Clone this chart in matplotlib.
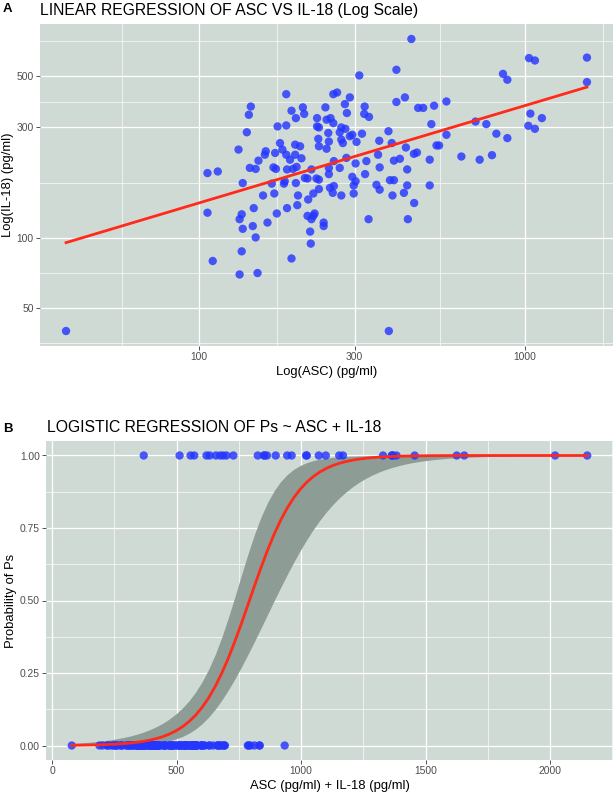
import numpy as np
import matplotlib
matplotlib.use("Agg")
import matplotlib.pyplot as plt
from matplotlib.ticker import FixedLocator, NullFormatter

plt.rcParams['font.family'] = ['Liberation Sans', 'DejaVu Sans']

# one entry per sample: ASC, IL-18 (pg/ml) and Ps outcome (1 = Ps)
asc = [185, 258, 265, 290, 280, 322, 403, 428, 144, 142, 192, 208, 210, 198,
       244, 284, 321, 332, 230, 246, 253, 258, 174, 185, 230, 233, 273, 281,
       140, 249, 270, 290, 295, 316, 381, 232, 250, 273, 276, 304, 357, 390,
       233, 246, 177, 132, 160, 159, 171, 180, 185, 197, 204, 190, 206, 152,
       197, 143, 149, 169, 172, 186, 194, 199, 221, 259, 283, 270, 250, 302,
       326, 354, 396, 413, 431, 456, 435, 358, 106, 114, 136, 167, 182, 183,
       198, 211, 215, 229, 233, 250, 233, 252, 257, 259, 295, 302, 298, 323,
       350, 358, 385, 396, 435, 157, 170, 201, 224, 216, 273, 298, 392, 425,
       106, 147, 135, 133, 136, 146, 162, 173, 186, 200, 215, 224, 226, 221,
       241, 241, 331, 437, 149, 219, 220, 135, 110, 192,
       448, 310, 403, 856, 883, 1029, 1073, 1550, 1550, 470, 487, 526, 574, 516,
       574, 535, 545, 510, 638, 726, 792, 705, 761, 817, 883, 1039, 1127, 1024,
       1073, 466, 510, 457, 39, 133, 151, 382]
il18 = [417, 417, 424, 404, 378, 369, 386, 404, 369, 340, 354, 366, 343, 329,
        366, 346, 343, 333, 329, 324, 329, 313, 303, 306, 303, 300, 300, 296,
        286, 284, 286, 275, 279, 282, 289, 268, 261, 266, 257, 260, 263, 257,
        249, 243, 257, 241, 237, 229, 233, 241, 229, 253, 249, 218, 221, 216,
        229, 201, 199, 202, 199, 198, 199, 203, 198, 215, 222, 201, 201, 210,
        215, 229, 216, 220, 246, 231, 198, 202, 191, 194, 173, 172, 172, 176,
        173, 182, 181, 181, 179, 189, 163, 165, 157, 168, 184, 176, 169, 189,
        170, 162, 178, 178, 169, 153, 156, 153, 156, 147, 153, 156, 153, 157,
        129, 135, 127, 121, 110, 113, 117, 128, 135, 139, 125, 125, 128, 121,
        117, 113, 121, 121, 101, 107, 95, 88, 80, 82,
        720, 502, 531, 510, 481, 596, 582, 599, 470, 364, 364, 372, 388, 310,
        279, 251, 251, 218, 225, 218, 228, 318, 310, 282, 270, 344, 329, 305,
        296, 234, 169, 142, 40, 70, 71, 40]
ps = [0, 1, 0, 0, 1, 0, 0, 0, 0, 0, 0, 0, 0, 0,
      0, 0, 0, 0, 0, 0, 0, 1, 0, 0, 0, 0, 0, 0,
      0, 0, 1, 0, 0, 0, 0, 0, 0, 0, 0, 0, 1, 0,
      0, 0, 0, 0, 0, 0, 0, 0, 0, 0, 0, 0, 0, 1,
      0, 0, 0, 0, 0, 0, 0, 0, 0, 0, 0, 0, 0, 1,
      0, 0, 0, 1, 0, 1, 0, 0, 0, 0, 0, 0, 0, 0,
      0, 0, 0, 0, 0, 0, 0, 0, 0, 0, 0, 0, 0, 0,
      0, 0, 0, 0, 0, 0, 0, 0, 0, 0, 0, 0, 0, 0,
      0, 0, 0, 0, 0, 0, 0, 0, 0, 0, 0, 0, 0, 0,
      0, 0, 0, 0, 0, 0, 0, 0, 0, 0,
      1, 0, 0, 1, 1, 1, 1, 1, 1, 0, 1, 1, 1, 1,
      1, 0, 0, 1, 1, 1, 1, 1, 1, 1, 1, 1, 1, 1,
      1, 1, 0, 0, 0, 0, 0, 0]

xticks_a = [100, 300, 1000]
yticks_a = [50, 100, 300, 500]
xticks_b = [0, 500, 1000, 1500, 2000]
yticks_b = [0.0, 0.25, 0.5, 0.75, 1.0]

panel_bg = "#D0DAD5"
point_col = "#2536FF"
line_col = "#FF2A1A"
ribbon_col = "#8E9C96"


def ggplot_look(ax):
    ax.set_facecolor(panel_bg)
    for s in ax.spines.values():
        s.set_visible(False)
    ax.set_axisbelow(True)
    ax.grid(which='major', color='white', linewidth=0.9)
    ax.grid(which='minor', color='white', linewidth=0.45)
    ax.tick_params(which='major', length=2.7, width=0.6, color='#333333',
                   labelsize=7.4, labelcolor='#4D4D4D', pad=1.8)
    ax.tick_params(which='minor', length=0)


def log_midpoints(ticks):
    # ggplot style minor breaks: halfway between majors in log space
    lt = np.log10(ticks)
    step = lt[1] - lt[0]
    lt = np.concatenate([[lt[0] - step], lt, [lt[-1] + step]])
    return list(10 ** ((lt[:-1] + lt[1:]) / 2))


fig = plt.figure(figsize=(6.14, 7.93), dpi=100)
W, H = 614.0, 793.0

# ---- A: linear regression on log scales
ax = fig.add_axes([40 / W, 1 - 345.6 / H, 573 / W, 321.2 / H])
ggplot_look(ax)
ax.set_xscale('log')
ax.set_yscale('log')

lx = np.log10(asc)
ly = np.log10(il18)
sx = lx.max() - lx.min()
sy = ly.max() - ly.min()
ax.set_xlim(10 ** (lx.min() - 0.05 * sx), 10 ** (lx.max() + 0.05 * sx))
ax.set_ylim(10 ** (ly.min() - 0.05 * sy), 10 ** (ly.max() + 0.05 * sy))

ax.scatter(asc, il18, s=36, color=point_col, alpha=0.82, edgecolors='none', zorder=2)

slope, icpt = np.polyfit(lx, ly, 1)
xs = np.linspace(lx.min(), lx.max(), 80)
ax.plot(10 ** xs, 10 ** (icpt + slope * xs), color=line_col, lw=2.0, zorder=3)

ax.xaxis.set_major_locator(FixedLocator(xticks_a))
ax.yaxis.set_major_locator(FixedLocator(yticks_a))
ax.set_xticklabels([str(v) for v in xticks_a])
ax.set_yticklabels([str(v) for v in yticks_a])
ax.xaxis.set_minor_locator(FixedLocator(log_midpoints(xticks_a)))
ax.yaxis.set_minor_locator(FixedLocator(log_midpoints(yticks_a)))
ax.xaxis.set_minor_formatter(NullFormatter())
ax.yaxis.set_minor_formatter(NullFormatter())
ax.set_xlabel("Log(ASC) (pg/ml)", fontsize=9.4, labelpad=3)
ax.set_ylabel("Log(IL-18) (pg/ml)", fontsize=9.4, labelpad=2)

fig.text(3 / W, 1 - 12 / H, "A", fontsize=9.5, fontweight='bold', va='baseline')
fig.text(40 / W, 1 - 15 / H, "LINEAR REGRESSION OF ASC VS IL-18 (Log Scale)",
         fontsize=11.3, va='baseline')

# ---- B: logistic regression of Ps on ASC + IL-18
total = np.array(asc, float) + np.array(il18, float)
y = np.array(ps, float)

X = np.column_stack([np.ones_like(total), total])
beta = np.zeros(2)
for _ in range(60):
    p = 1 / (1 + np.exp(-(X @ beta)))
    w = p * (1 - p)
    hess = X.T @ (w[:, None] * X)
    beta = beta + np.linalg.solve(hess, X.T @ (y - p))
p = 1 / (1 + np.exp(-(X @ beta)))
cov = np.linalg.inv(X.T @ ((p * (1 - p))[:, None] * X))

grid = np.linspace(total.min(), total.max(), 80)
G = np.column_stack([np.ones_like(grid), grid])
eta = G @ beta
se = np.sqrt(np.einsum('ij,jk,ik->i', G, cov, G))
fit = 1 / (1 + np.exp(-eta))
lo = 1 / (1 + np.exp(-(eta - 1.96 * se)))
hi = 1 / (1 + np.exp(-(eta + 1.96 * se)))

bx = fig.add_axes([46 / W, 1 - 760 / H, 567 / W, 319 / H])
ggplot_look(bx)
span = total.max() - total.min()
bx.set_xlim(total.min() - 0.05 * span, total.max() + 0.05 * span)
bx.set_ylim(-0.05, 1.05)

bx.fill_between(grid, lo, hi, color=ribbon_col, lw=0, zorder=1.5)
bx.scatter(total, y, s=36, color=point_col, alpha=0.82, edgecolors='none', zorder=2)
bx.plot(grid, fit, color=line_col, lw=2.0, zorder=3)

bx.xaxis.set_major_locator(FixedLocator(xticks_b))
bx.yaxis.set_major_locator(FixedLocator(yticks_b))
bx.set_xticklabels([str(v) for v in xticks_b])
bx.set_yticklabels(["%.2f" % v for v in yticks_b])
bx.xaxis.set_minor_locator(FixedLocator([250, 750, 1250, 1750, 2250]))
bx.yaxis.set_minor_locator(FixedLocator([0.125, 0.375, 0.625, 0.875]))
bx.xaxis.set_minor_formatter(NullFormatter())
bx.yaxis.set_minor_formatter(NullFormatter())
bx.set_xlabel("ASC (pg/ml) + IL-18 (pg/ml)", fontsize=9.4, labelpad=3)
bx.set_ylabel("Probability of Ps", fontsize=9.4, labelpad=2)

fig.text(3 / W, 1 - 432 / H, "B", fontsize=9.5, fontweight='bold', va='baseline')
fig.text(46.7 / W, 1 - 431.7 / H, "LOGISTIC REGRESSION OF Ps ~ ASC + IL-18",
         fontsize=11.3, va='baseline')

fig.savefig("out.png", dpi=100)
